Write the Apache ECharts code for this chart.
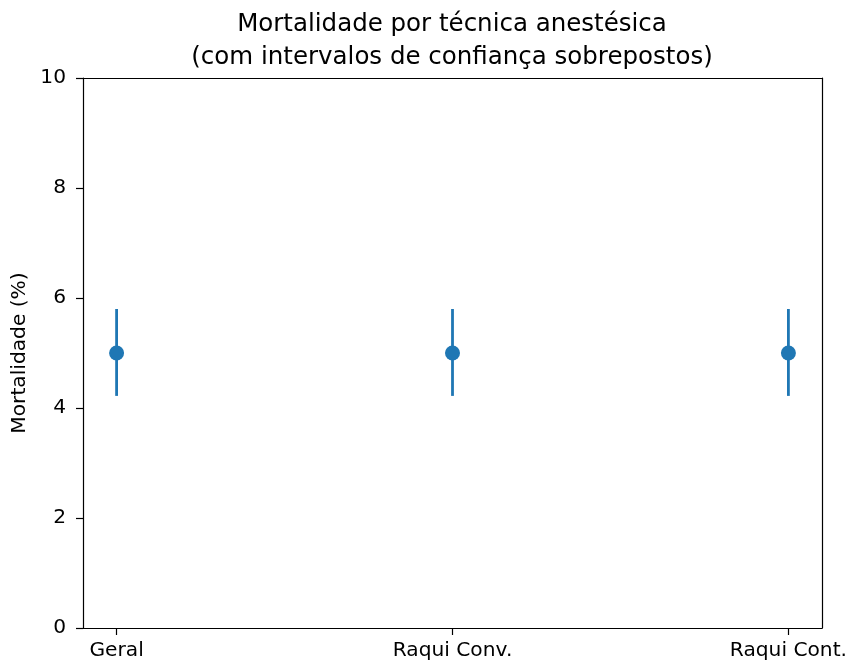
<!DOCTYPE html>
<html>
<head>
<meta charset="utf-8">
<script src="https://cdn.jsdelivr.net/npm/echarts@6/dist/echarts.min.js"></script>
<style>html,body{margin:0;padding:0;background:#fff}#c{width:846px;height:662px}</style>
</head>
<body>
<div id="c"></div>
<script>
const categories = ["Geral", "Raqui Conv.", "Raqui Cont."];
const mortality = [5.0, 5.0, 5.0];
const ciLow = [4.22, 4.22, 4.22];
const ciHigh = [5.8, 5.8, 5.8];
const yTicks = [0, 2, 4, 6, 8, 10];

const FONT = "DejaVu Sans";
const chart = echarts.init(document.getElementById('c'), null, {renderer: 'canvas'});
const pointData = mortality.map((v, i) => [i, v]);
const errData = categories.map((c, i) => [i, ciLow[i], ciHigh[i]]);

chart.setOption({
  animation: false,
  backgroundColor: '#fff',
  title: {
    text: 'Mortalidade por técnica anestésica\n(com intervalos de confiança sobrepostos)',
    left: 447, top: 3, textAlign: 'center',
    textStyle: {fontFamily: FONT, fontSize: 24.5, fontWeight: 'normal', color: '#000', lineHeight: 33}
  },
  grid: {left: 83, right: 24, top: 78, bottom: 34, containLabel: false, outerBoundsMode: 'none'},
  xAxis: [{
    type: 'value', min: -0.1, max: 2.1, position: 'bottom',
    splitLine: {show: false},
    axisLine: {show: true, onZero: false, lineStyle: {color: '#000', width: 1.2}},
    axisTick: {show: true, length: 7, customValues: [0, 1, 2], lineStyle: {color: '#000', width: 1.2}},
    axisLabel: {customValues: [0, 1, 2], formatter: v => categories[Math.round(v)], fontFamily: FONT, fontSize: 20.2, color: '#000', margin: 13, hideOverlap: false}
  }, {
    type: 'value', min: -0.1, max: 2.1, position: 'top',
    splitLine: {show: false},
    axisLine: {show: true, onZero: false, lineStyle: {color: '#000', width: 1.2}},
    axisTick: {show: false}, axisLabel: {show: false}
  }],
  yAxis: [{
    type: 'value', min: 0, max: 10, interval: 2, position: 'left',
    name: 'Mortalidade (%)', nameLocation: 'middle', nameGap: 51, nameRotate: 90,
    nameTextStyle: {fontFamily: FONT, fontSize: 20.2, color: '#000'},
    splitLine: {show: false},
    axisLine: {show: true, onZero: false, lineStyle: {color: '#000', width: 1.2}},
    axisTick: {show: true, length: 7, lineStyle: {color: '#000', width: 1.2}},
    axisLabel: {fontFamily: FONT, fontSize: 20.2, color: '#000', margin: 17,
      formatter: v => yTicks.includes(v) ? String(v) : ''}
  }, {
    type: 'value', min: 0, max: 10, interval: 2, position: 'right',
    splitLine: {show: false},
    axisLine: {show: true, onZero: false, lineStyle: {color: '#000', width: 1.2}},
    axisTick: {show: false}, axisLabel: {show: false}
  }],
  series: [{
    type: 'custom',
    xAxisIndex: 0, yAxisIndex: 0,
    data: errData,
    encode: {x: 0, y: [1, 2]},
    renderItem: function (params, api) {
      const x = api.value(0);
      const lo = api.coord([x, api.value(1)]);
      const hi = api.coord([x, api.value(2)]);
      return {
        type: 'line',
        shape: {x1: lo[0], y1: lo[1], x2: hi[0], y2: hi[1]},
        style: {stroke: '#1f77b4', lineWidth: 2.8}
      };
    },
    z: 2
  }, {
    type: 'scatter',
    xAxisIndex: 0, yAxisIndex: 0,
    data: pointData,
    symbol: 'circle', symbolSize: 15,
    itemStyle: {color: '#1f77b4', opacity: 1},
    z: 3
  }]
});
</script>
</body>
</html>
